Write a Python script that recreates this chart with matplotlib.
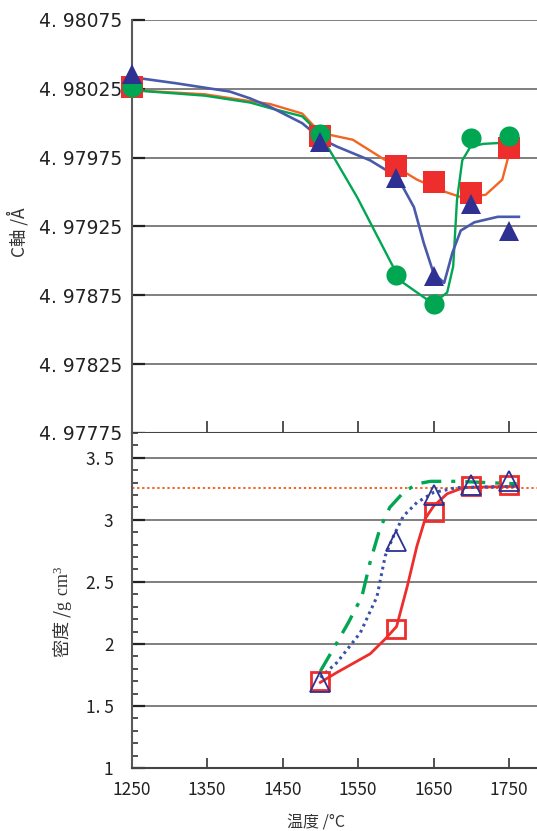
import matplotlib
matplotlib.use("Agg")
import matplotlib.pyplot as plt
from matplotlib.ticker import FixedLocator, MultipleLocator

plt.rcParams['font.family'] = ['Noto Sans CJK JP', 'DejaVu Sans']
plt.rcParams['mathtext.fontset'] = 'custom'
plt.rcParams['mathtext.rm'] = 'Liberation Serif'

# measured lattice constant (c axis) at each sintering temperature
temp = [1250, 1500, 1600, 1650, 1700, 1750]
c_square = [4.98026, 4.97991, 4.97969, 4.97957, 4.97949, 4.97982]
c_circle = [4.98026, 4.97992, 4.97890, 4.97869, 4.97989, 4.97991]
c_triangle = [4.98036, 4.97986, 4.97960, 4.97889, 4.97941, 4.97922]

# guide curves drawn through the c-axis data
orange_t = [1250, 1347, 1407, 1433, 1476, 1500, 1543, 1601, 1628, 1666, 1688, 1719, 1741, 1754]
orange_c = [4.98024, 4.98021, 4.98016, 4.98014, 4.98007, 4.97993, 4.97988, 4.97968, 4.97959,
            4.97950, 4.97946, 4.97948, 4.97959, 4.97986]
green_t = [1250, 1347, 1407, 1433, 1476, 1500, 1549, 1599, 1610, 1649, 1668, 1676, 1681, 1688,
           1699, 1716, 1750]
green_c = [4.98024, 4.98020, 4.98015, 4.98011, 4.98005, 4.97992, 4.97946, 4.97893, 4.97884,
           4.97869, 4.97877, 4.97896, 4.97944, 4.97973, 4.97983, 4.97985, 4.97986]
blue_t = [1256, 1309, 1380, 1407, 1433, 1476, 1500, 1522, 1566, 1593, 1610, 1624, 1637, 1650,
          1664, 1675, 1686, 1704, 1735, 1763]
blue_c = [4.98033, 4.98029, 4.98023, 4.98018, 4.98012, 4.98000, 4.97989, 4.97983, 4.97973,
          4.97964, 4.97953, 4.97939, 4.97913, 4.97891, 4.97884, 4.97906, 4.97922, 4.97928,
          4.97932, 4.97932]

c_ticks = [4.97775, 4.97825, 4.97875, 4.97925, 4.97975, 4.98025, 4.98075]
c_labels = ["4. 97775", "4. 97825", "4. 97875", "4. 97925", "4. 97975", "4. 98025", "4. 98075"]

# density
dens_t = [1500, 1600, 1650, 1700, 1750]
dens_square = [1.70, 2.12, 3.06, 3.27, 3.28]
dens_triangle = [1.69, 2.83, 3.20, 3.28, 3.31]
theory_density = 3.26

red_t = [1500, 1522, 1566, 1586, 1601, 1615, 1628, 1639, 1650, 1668, 1690, 1760]
red_d = [1.69, 1.77, 1.92, 2.04, 2.14, 2.46, 2.79, 3.01, 3.11, 3.21, 3.26, 3.27]
dashdot_t = [1500, 1522, 1537, 1555, 1566, 1579, 1592, 1610, 1628, 1646, 1681, 1760]
dashdot_d = [1.78, 2.01, 2.17, 2.38, 2.66, 2.93, 3.10, 3.22, 3.29, 3.31, 3.31, 3.29]
dotted_t = [1500, 1522, 1553, 1575, 1586, 1597, 1610, 1628, 1650, 1681, 1760]
dotted_d = [1.73, 1.85, 2.09, 2.38, 2.71, 2.87, 3.03, 3.14, 3.22, 3.26, 3.27]

d_ticks = [1, 1.5, 2, 2.5, 3, 3.5]
d_labels = ["1", "1. 5", "2", "2. 5", "3", "3. 5"]
t_ticks = [1250, 1350, 1450, 1550, 1650, 1750]

RED = '#ee2d2d'
GREEN = '#00a651'
NAVY = '#2e3192'
GRID = '#6a6a6a'

fig = plt.figure(figsize=(5.37, 8.31), dpi=100)
ax1 = fig.add_axes([0.245, 0.479, 0.755, 0.497])
ax2 = fig.add_axes([0.245, 0.0758, 0.755, 0.4032])

# --- c axis panel ---
ax1.plot(orange_t, orange_c, color='#f26522', lw=1.7, zorder=2)
ax1.plot(green_t, green_c, color=GREEN, lw=1.7, zorder=2)
ax1.plot(blue_t, blue_c, color='#4a5aaa', lw=1.9, zorder=2)
ax1.plot(temp, c_square, 's', color=RED, ms=16, mew=0, zorder=3, clip_on=False)
ax1.plot(temp, c_circle, 'o', color=GREEN, ms=14.5, mew=0, zorder=4, clip_on=False)
ax1.plot(temp, c_triangle, '^', color=NAVY, ms=14, mew=0, zorder=5, clip_on=False)

ax1.set_xlim(1250, 1787)
ax1.set_ylim(4.97775, 4.98075)
ax1.yaxis.set_major_locator(FixedLocator(c_ticks))
ax1.set_yticklabels(c_labels, fontfamily='DejaVu Sans')
ax1.xaxis.set_major_locator(FixedLocator(t_ticks))
ax1.tick_params(axis='x', direction='in', length=8.5, width=1.2, labelbottom=False, color='#333')
ax1.tick_params(axis='y', direction='in', length=9.5, width=1.6, pad=7, labelsize=13.5,
                color='#222', labelcolor='#222')
ax1.grid(axis='y', color=GRID, lw=1.2)
for s in ('top', 'right'):
    ax1.spines[s].set_visible(False)
ax1.spines['left'].set_color('#5a5a5a')
ax1.spines['left'].set_linewidth(1.5)
ax1.spines['bottom'].set_color('#444')
ax1.spines['bottom'].set_linewidth(1.5)
ax1.text(-0.28, 0.487, 'C軸 /Å', transform=ax1.transAxes, rotation=90,
         ha='center', va='center', fontsize=12.5, color='#333')

# --- density panel ---
ax2.axhline(theory_density, color='#f26522', lw=1.4, ls=(0, (1.2, 1.4)), zorder=1)
ax2.plot(red_t, red_d, color=RED, lw=2.0, zorder=2)
ax2.plot(dashdot_t, dashdot_d, color=GREEN, lw=2.4, ls=(0, (6, 3, 1.2, 3)), zorder=2)
ax2.plot(dotted_t, dotted_d, color='#3a50aa', lw=2.2, ls=(0, (0.9, 1.3)), zorder=2)
ax2.plot(dens_t, dens_square, 's', mfc='none', mec=RED, ms=13.5, mew=2.0, zorder=3)
ax2.plot(dens_t, dens_triangle, '^', mfc='none', mec=NAVY, ms=14, mew=1.3, zorder=4)

ax2.set_xlim(1250, 1787)
ax2.set_ylim(1, 3.7)
ax2.yaxis.set_major_locator(FixedLocator(d_ticks))
ax2.yaxis.set_minor_locator(MultipleLocator(0.1))
ax2.set_yticklabels(d_labels)
ax2.xaxis.set_major_locator(FixedLocator(t_ticks))
ax2.set_xticklabels([str(t) for t in t_ticks])
ax2.tick_params(axis='x', direction='in', length=7.5, width=1.2, pad=9, labelsize=12.5,
                color='#333', labelcolor='#222')
ax2.tick_params(axis='y', which='major', direction='in', length=9.5, width=1.6, pad=13,
                labelsize=12.5, color='#222', labelcolor='#222')
ax2.tick_params(axis='y', which='minor', direction='in', length=4.5, width=1.2, color='#333')
ax2.grid(axis='y', which='major', color=GRID, lw=1.2)
for s in ('top', 'right'):
    ax2.spines[s].set_visible(False)
ax2.spines['left'].set_color('#5a5a5a')
ax2.spines['left'].set_linewidth(1.5)
ax2.spines['bottom'].set_color('#444')
ax2.spines['bottom'].set_linewidth(1.5)
ax2.text(-0.169, 0.466, '密度 /$\\mathrm{g\\ cm^{3}}$', transform=ax2.transAxes, rotation=90,
         ha='center', va='center', fontsize=13, color='#333')
ax2.text(0.455, -0.164, '温度 /°C', transform=ax2.transAxes,
         ha='center', va='center', fontsize=11.5, color='#333')

fig.savefig('out.png', dpi=100)
